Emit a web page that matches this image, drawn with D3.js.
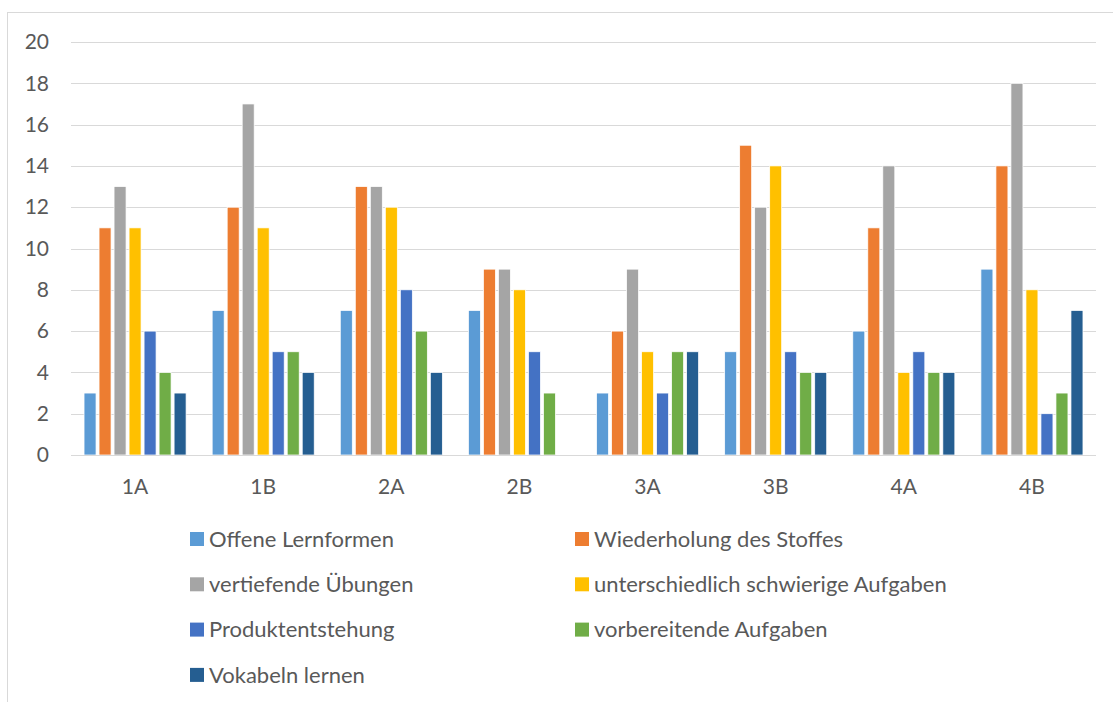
<!DOCTYPE html>
<html>
<head>
<meta charset="utf-8">
<script src="https://cdn.jsdelivr.net/npm/d3@7"></script>
<style>
  body { margin: 0; background: #fff; }
  svg { display: block; font-family: Lato, "Noto Sans", sans-serif; }
</style>
</head>
<body>
<div id="chart"></div>
<script>
// Klassen und Reihen
const categories = ['1A', '1B', '2A', '2B', '3A', '3B', '4A', '4B']
const seriesNames = [
  'Offene Lernformen',
  'Wiederholung des Stoffes',
  'vertiefende Übungen',
  'unterschiedlich schwierige Aufgaben',
  'Produktentstehung',
  'vorbereitende Aufgaben',
  'Vokabeln lernen'
]
const offene     = [3, 7, 7, 7, 3, 5, 6, 9]
const wiederhol  = [11, 12, 13, 9, 6, 15, 11, 14]
const vertiefend = [13, 17, 13, 9, 9, 12, 14, 18]
const unterschied = [11, 11, 12, 8, 5, 14, 4, 8]
const produkt    = [6, 5, 8, 5, 3, 5, 5, 2]
const vorbereit  = [4, 5, 6, 3, 5, 4, 4, 3]
const vokabeln   = [3, 4, 4, 0, 5, 4, 4, 7]
const yTicks = [0, 2, 4, 6, 8, 10, 12, 14, 16, 18, 20]

const seriesValues = [offene, wiederhol, vertiefend, unterschied, produkt, vorbereit, vokabeln]
const colors = ['#5B9BD5', '#ED7D31', '#A5A5A5', '#FFC000', '#4472C4', '#70AD47', '#255E91']

const W = 1113, H = 702
const svg = d3.select('#chart').append('svg')
  .attr('width', W).attr('height', H)

// Rahmen
svg.append('rect')
  .attr('x', 7.5).attr('y', 12.5)
  .attr('width', W + 10).attr('height', H + 10)
  .attr('fill', 'none').attr('stroke', '#D9D9D9')

const x0 = d3.scaleBand().domain(categories).range([71, 1096])
  .paddingInner(0.18).paddingOuter(0.09)
const x1 = d3.scaleBand().domain(d3.range(seriesNames.length))
  .range([0, x0.bandwidth()]).paddingInner(0.2).paddingOuter(0.1)
const y = d3.scaleLinear().domain([0, 20]).range([455, 42])

// Gitternetz
svg.append('g')
  .selectAll('line').data(yTicks).join('line')
  .attr('x1', 71).attr('x2', 1096)
  .attr('y1', d => Math.round(y(d)) + 0.5).attr('y2', d => Math.round(y(d)) + 0.5)
  .attr('stroke', '#D9D9D9').attr('stroke-width', 1)

// y-Achse Beschriftung
const yAxis = svg.append('g')
  .attr('transform', 'translate(49,0)')
  .call(d3.axisLeft(y).tickValues(yTicks).tickSize(0).tickPadding(0))
yAxis.select('.domain').remove()
yAxis.selectAll('text')
  .attr('fill', '#595959').style('font-size', '21px')
  .style('font-family', 'Lato, "Noto Sans", sans-serif')

// Balken
const groups = svg.append('g').selectAll('g').data(categories).join('g')
  .attr('transform', d => `translate(${x0(d)},0)`)
groups.selectAll('rect')
  .data((c, ci) => seriesValues.map((vals, si) => ({ si, v: vals[ci] })))
  .join('rect')
  .filter(d => d.v > 0)
  .attr('x', d => x1(d.si))
  .attr('width', x1.bandwidth())
  .attr('y', d => y(d.v))
  .attr('height', d => y(0) - y(d.v))
  .attr('fill', d => colors[d.si])
  .attr('stroke', '#fff').attr('stroke-width', 0.75)

// x-Achse
const xAxis = svg.append('g')
  .attr('transform', `translate(0,${Math.round(y(0)) + 0.5})`)
  .call(d3.axisBottom(x0).tickSize(0).tickPadding(24))
xAxis.select('.domain').attr('stroke', '#D9D9D9').attr('d', 'M71,0H1096')
xAxis.selectAll('text')
  .attr('fill', '#595959').style('font-size', '21px')
  .style('font-family', 'Lato, "Noto Sans", sans-serif')

// Legende
const legend = svg.append('g').selectAll('g').data(seriesNames).join('g')
  .attr('transform', (d, i) => `translate(${i % 2 === 0 ? 190 : 575},${539 + Math.floor(i / 2) * 45.3})`)
legend.append('rect')
  .attr('x', 0).attr('y', -7).attr('width', 14).attr('height', 14)
  .attr('fill', (d, i) => colors[i])
legend.append('text')
  .attr('x', 19).attr('y', 0).attr('dy', '0.35em')
  .attr('fill', '#595959').style('font-size', '22px')
  .text(d => d)
</script>
</body>
</html>
